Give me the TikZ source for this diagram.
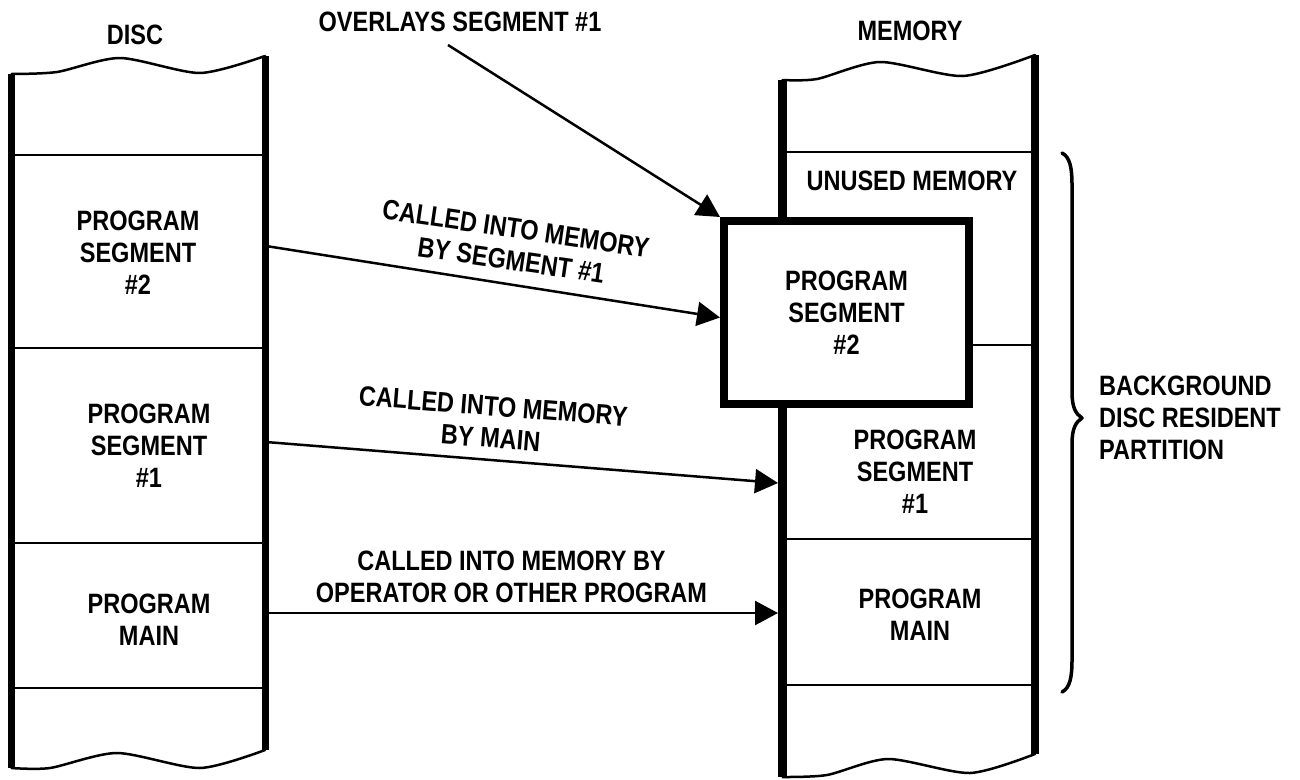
\documentclass[tikz,border=0pt]{standalone}
\usepackage{fontspec}
\setmainfont{Liberation Sans}[FakeStretch=0.84]
\usetikzlibrary{arrows.meta}
\begin{document}
\begin{tikzpicture}[x=1pt,y=-1pt,
  dedge/.style={line width=7pt},
  medge/.style={line width=8.5pt},
  rule/.style={line width=2.5pt},
  wave/.style={line width=2.5pt, line join=round, line cap=round},
  lbl/.style={font=\fontsize{28}{32}\selectfont\bfseries, align=center, inner sep=0pt},
  conn/.style={line width=2.5pt, -{Triangle[length=23pt,width=24pt]}},
  boxed/.style={draw, line width=8pt, fill=white, minimum width=245pt, minimum height=183pt, inner sep=0pt,
     font=\fontsize{28}{32}\selectfont\bfseries, align=center}]
\useasboundingbox (0,0) rectangle (1300,779);

% ---------- DISC column ----------
\node[lbl] (disc) at (135,35) {DISC};
\draw[dedge] (11.5,74) -- (11.5,768);
\draw[dedge] (265,56) -- (265,750);
\draw[wave] plot[smooth, tension=0.45] coordinates {(11.5,74) (57,72) (120,58) (200,73) (265,56)};
\draw[wave] plot[smooth, tension=0.45] coordinates {(11.5,768) (50,768) (117,753) (200,768) (265,750)};
\foreach \yy in {155,348,543,688} \draw[rule] (11.5,\yy) -- (265,\yy);
\node[lbl] (dseg2) at (138,252.5) {PROGRAM\\SEGMENT\\\#2};
\node[lbl] (dseg1) at (149,446) {PROGRAM\\SEGMENT\\\#1};
\node[lbl] (dmain) at (149,619.5) {PROGRAM\\MAIN};

% ---------- MEMORY column ----------
\node[lbl] (mem) at (910,31) {MEMORY};
\draw[medge] (782.5,80) -- (782.5,777);
\draw[medge] (1035,55) -- (1035,754);
\draw[wave] plot[smooth, tension=0.45] coordinates {(782.5,80) (817,79) (880,62) (963,76) (1035,55)};
\draw[wave] plot[smooth, tension=0.45] coordinates {(782.5,777) (827,775) (888,759) (970,773) (1035,754)};
\draw[rule] (782.5,152) -- (1035,152);
\draw[rule] (969,345) -- (1035,345);
\draw[rule] (782.5,539) -- (1035,539);
\draw[rule] (782.5,685) -- (1035,685);
\node[lbl] (unused) at (912,181) {UNUSED MEMORY};
\node[boxed] (box) at (846.5,312.5) {PROGRAM\\SEGMENT\\\#2};
\node[lbl] (mseg1) at (915,471.5) {PROGRAM\\SEGMENT\\\#1};
\node[lbl] (mmain) at (920,615) {PROGRAM\\MAIN};

% ---------- brace ----------
\draw[line width=3.5pt, line cap=round, line join=round]
  (1062,153) .. controls (1070,157) and (1072,168) .. (1072,185)
  -- (1072,392) .. controls (1072,408) and (1076,414) .. (1082,418)
  .. controls (1076,422) and (1072,428) .. (1072,444)
  -- (1072,660) .. controls (1072,677) and (1070,688) .. (1062,692);
\node[lbl, align=left, anchor=west] (bg) at (1099,418) {BACKGROUND\\DISC RESIDENT\\PARTITION};

% ---------- connectors ----------
\node[lbl] (ovl) at (460,22) {OVERLAYS SEGMENT \#1};
\coordinate (ovs) at (448,45);
\draw[conn] (ovs) -- (box.north west);

\coordinate (d2) at (266,246);
\draw[conn] (d2) -- ([yshift=-5pt]box.west);
\node[lbl, rotate=-8.3] (l1) at (513.5,244.5) {CALLED INTO MEMORY\\BY SEGMENT \#1};

\coordinate (d1) at (266,442);
\coordinate (m1) at (778,483);
\draw[conn] (d1) -- (m1);
\node[lbl, rotate=-4.5] (l2) at (492,422) {CALLED INTO MEMORY\\BY MAIN};

\coordinate (dm) at (266,613);
\coordinate (mm) at (778,613);
\draw[conn] (dm) -- (mm);
\node[lbl] (l3) at (511.5,576.5) {CALLED INTO MEMORY BY\\OPERATOR OR OTHER PROGRAM};
\end{tikzpicture}
\end{document}
